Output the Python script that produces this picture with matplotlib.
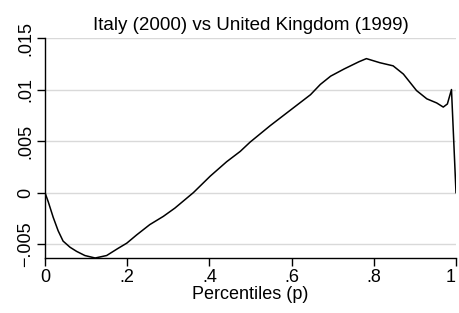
import matplotlib.pyplot as plt

plt.rcParams['font.family'] = ['Liberation Sans', 'DejaVu Sans']

# Curve
p = [0.0, 0.008, 0.020, 0.032, 0.044, 0.061, 0.077, 0.097, 0.122, 0.150, 0.178,
     0.199, 0.223, 0.255, 0.288, 0.316, 0.361, 0.402, 0.442, 0.475, 0.499, 0.548,
     0.597, 0.646, 0.670, 0.695, 0.728, 0.764, 0.782, 0.815, 0.847, 0.872, 0.904,
     0.929, 0.953, 0.969, 0.979, 0.989, 1.0]
diff = [0.0, -0.0009, -0.0024, -0.0037, -0.0047, -0.0053, -0.0057, -0.0061,
        -0.00634, -0.0061, -0.0054, -0.0049, -0.0041, -0.0031, -0.0023, -0.0015,
        0.0, 0.0016, 0.0030, 0.0040, 0.0049, 0.0065, 0.0080, 0.0095, 0.0105,
        0.0113, 0.0120, 0.0127, 0.0130, 0.0126, 0.0123, 0.0115, 0.0099, 0.0091,
        0.0087, 0.0083, 0.0086, 0.0100, 0.0]

xticks = [0, 0.2, 0.4, 0.6, 0.8, 1.0]
xticklabels = ['0', '.2', '.4', '.6', '.8', '1']
yticks = [-0.005, 0, 0.005, 0.01, 0.015]
yticklabels = ['\u2212.005', '0', '.005', '.01', '.015']

fig = plt.figure(figsize=(4.59, 3.13), dpi=100)
ax = fig.add_axes([45 / 459, 55 / 313, 411 / 459, 220 / 313])

ax.plot(p, diff, color='black', linewidth=1.1)

ax.set_xlim(0, 1)
ax.set_ylim(min(diff), 0.015)
ax.set_xticks(xticks)
ax.set_xticklabels(xticklabels, fontsize=13)
ax.get_xticklabels()[-1].set_horizontalalignment('right')  # keep "1" inside the figure
ax.set_yticks(yticks)
ax.set_yticklabels(yticklabels, fontsize=13, rotation=90, va='center')
ax.tick_params(direction='out', length=6, width=1, colors='black')
ax.tick_params(axis='x', pad=2)
ax.tick_params(axis='y', pad=2)

ax.grid(axis='y', color='#d9d9d9', linewidth=1)
ax.set_axisbelow(True)
for side in ['top', 'right']:
    ax.spines[side].set_visible(False)
for side in ['left', 'bottom']:
    ax.spines[side].set_linewidth(1)

ax.set_xlabel('Percentiles (p)', fontsize=13, labelpad=0)
ax.set_title('Italy (2000) vs United Kingdom (1999)', fontsize=13.5, pad=6)

fig.savefig('out.png', dpi=100)
